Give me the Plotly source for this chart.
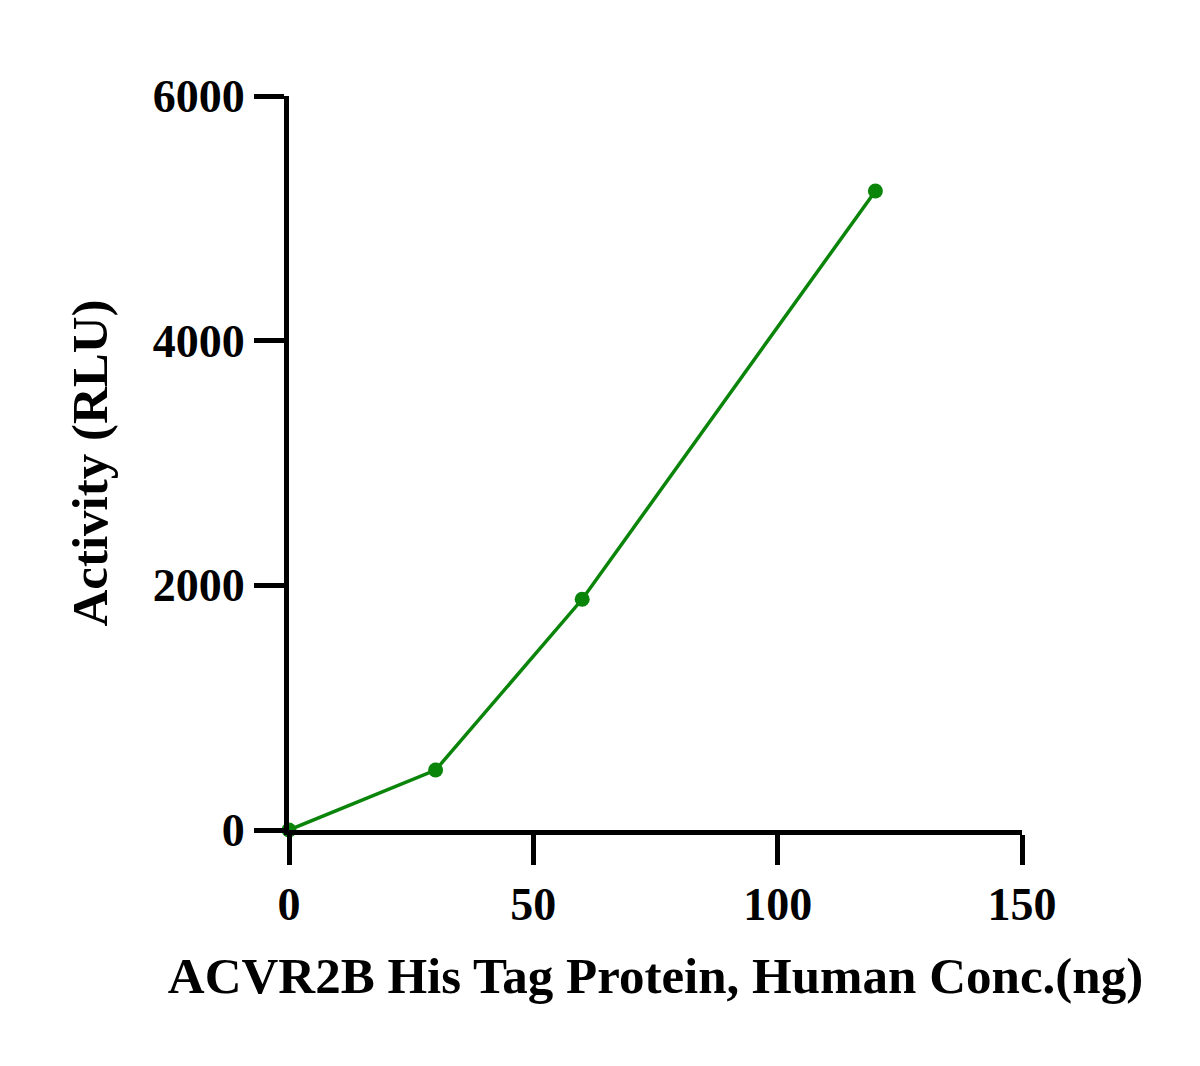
import plotly.graph_objects as go

conc = [0, 30, 60, 120]
activity = [0, 490, 1886, 5224]

title_font = dict(family="Liberation Serif", size=51, color="black", weight="bold")
tick_font = dict(family="Liberation Serif", size=46, color="black", weight="bold")

fig = go.Figure()
fig.add_trace(go.Scatter(
    x=conc, y=activity, mode='lines+markers',
    line=dict(color='#0a850a', width=3.5),
    marker=dict(color='#0a850a', size=15),
    cliponaxis=False, showlegend=False
))

axis_common = dict(
    showline=True, linecolor='black', linewidth=5,
    ticks='outside', ticklen=30, tickwidth=5, tickcolor='black',
    showgrid=False, zeroline=False,
    tickfont=tick_font,
)

fig.update_layout(
    width=1200, height=1066,
    plot_bgcolor='white', paper_bgcolor='white',
    margin=dict(l=281, r=186, t=88, b=244),
    xaxis=dict(range=[0, 150], tickvals=[0, 50, 100, 150],
               title=dict(text='ACVR2B His Tag Protein, Human Conc.(ng)', font=title_font, standoff=30),
               **axis_common),
    yaxis=dict(range=[0, 6000], tickvals=[0, 2000, 4000, 6000],
               title=dict(text='Activity (RLU)', font=title_font, standoff=30),
               **axis_common),
)

fig.write_html("out.html")
